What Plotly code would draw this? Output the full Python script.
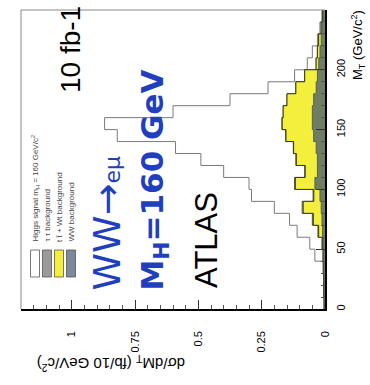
import numpy as np
import plotly.graph_objects as go

# ---------------- data ----------------
# lower edges of the 10 GeV/c^2 transverse-mass bins
mt_bin_low = [0, 10, 20, 30, 40, 50, 60, 70, 80, 90, 100, 110, 120,
              130, 140, 150, 160, 170, 180, 190, 200, 210, 220, 230, 240]
mt_upper_edge = 250

# d(sigma)/dM_T in fb / 10 GeV/c^2, per bin (stack components)
ww_bkg = [0.002, 0.003, 0.004, 0.005, 0.006, 0.008, 0.010, 0.012, 0.015, 0.020,
          0.040, 0.030, 0.030, 0.035, 0.045, 0.050, 0.050, 0.045, 0.035, 0.030,
          0.025, 0.020, 0.015, 0.012, 0.008]
ttbar_wt_bkg = [0.001, 0.001, 0.001, 0.001, 0.001, 0.002, 0.015, 0.034, 0.071, 0.024,
                0.077, 0.048, 0.083, 0.089, 0.109, 0.119, 0.115, 0.105, 0.080, 0.050,
                0.010, 0.010, 0.010, 0.003, 0.002]
tautau_bkg = [0.0, 0.0, 0.0, 0.0, 0.001, 0.002, 0.003, 0.004, 0.004, 0.003,
              0.003, 0.002, 0.002, 0.001, 0.001, 0.001, 0.0, 0.0, 0.0, 0.0,
              0.0, 0.0, 0.0, 0.0, 0.0]
higgs_signal = [0.001, 0.001, 0.001, 0.002, 0.032, 0.048, 0.082, 0.090, 0.110, 0.243,
                0.180, 0.320, 0.375, 0.465, 0.665, 0.700, 0.435, 0.225, 0.110, 0.040,
                0.035, 0.020, 0.005, 0.005, 0.002]

y_ticks = [0, 0.25, 0.5, 0.75, 1]
y_tick_text = ["0", "0.25", "0.5", "0.75", "1"]
mt_ticks = [0, 50, 100, 150, 200, 250]

legend_labels = ["Higgs signal m<sub>H</sub> = 160 GeV/c<sup>2</sup>",
                 "τ τ background",
                 "t t̄ + Wt background",
                 "WW background"]

# ---------------- build stacked step histograms ----------------
edges = mt_bin_low + [mt_upper_edge]
stack_ww = np.array(ww_bkg)
stack_tt = stack_ww + np.array(ttbar_wt_bkg)
stack_tau = stack_tt + np.array(tautau_bkg)
stack_sig = stack_tau + np.array(higgs_signal)


def steps(v):
    v = list(v)
    return v + [v[-1]]


fig = go.Figure()
fig.add_trace(go.Scatter(x=steps(stack_sig), y=edges, mode="lines",
                         line=dict(shape="vh", color="#7a7a7a", width=1),
                         fill="tozerox", fillcolor="white", hoverinfo="skip"))
fig.add_trace(go.Scatter(x=steps(stack_tau), y=edges, mode="lines",
                         line=dict(shape="vh", color="#222222", width=0.8),
                         fill="tozerox", fillcolor="white",
                         fillpattern=dict(shape=".", fgcolor="#333333", bgcolor="white",
                                          size=3, solidity=0.4),
                         hoverinfo="skip"))
fig.add_trace(go.Scatter(x=steps(stack_tt), y=edges, mode="lines",
                         line=dict(shape="vh", color="#2a2a10", width=0.9),
                         fill="tozerox", fillcolor="#f3ef3c", hoverinfo="skip"))
fig.add_trace(go.Scatter(x=steps(stack_ww), y=edges, mode="lines",
                         line=dict(shape="vh", color="#4a5640", width=0.8),
                         fill="tozerox", fillcolor="#6f7d62", hoverinfo="skip"))

# plot-area geometry in pixels (for placing the rotated labels)
L, R, T, B = 21, 325, 10, 309
W_PX, H_PX = 370, 385


def px(xp):
    return (xp - L) / (R - L)


def py(yp):
    return (B - yp) / (B - T)


fig.update_layout(
    width=W_PX, height=H_PX,
    margin=dict(l=L, r=W_PX - R, t=T, b=H_PX - B),
    showlegend=False,
    plot_bgcolor="white", paper_bgcolor="white",
    font=dict(family="Liberation Sans, Arial, sans-serif", color="black"),
)

fig.update_xaxes(
    range=[1.2, 0], tickmode="array", tickvals=y_ticks, ticktext=y_tick_text,
    tickangle=-90, ticks="inside", ticklen=9, tickcolor="#333", tickwidth=1,
    showline=True, linecolor="black", linewidth=1.5, showgrid=False, zeroline=False,
    minor=dict(tickmode="linear", tick0=0, dtick=0.05, ticks="inside", ticklen=4,
               tickcolor="#555"),
    tickfont=dict(size=11), ticklabelstandoff=16,
)
fig.update_yaxes(
    range=[0, 250], side="right", tickmode="array", tickvals=mt_ticks,
    tickangle=-90, ticks="inside", ticklen=9, tickcolor="#333", tickwidth=1,
    showline=True, linecolor="black", linewidth=1.5, showgrid=False, zeroline=False,
    minor=dict(tickmode="linear", tick0=0, dtick=10, ticks="inside", ticklen=4,
               tickcolor="#555"),
    tickfont=dict(size=11), ticklabelstandoff=5,
)

# frame lines on the two other sides
fig.add_shape(type="line", xref="paper", yref="paper", x0=0, x1=1, y0=1, y1=1,
              line=dict(color="#888", width=1))
fig.add_shape(type="line", xref="paper", yref="paper", x0=0, x1=0, y0=0, y1=1,
              line=dict(color="#888", width=1))

ann = []
# axis titles
ann.append(dict(text="M<sub>T</sub> (GeV/c<sup>2</sup>)", textangle=-90,
                x=px(358), y=py(8), xanchor="center", yanchor="top",
                font=dict(size=13)))
ann.append(dict(text="dσ/dM<sub>T</sub> (fb/10 GeV/c<sup>2</sup>)", textangle=180,
                x=px(111), y=py(364), xanchor="center", yanchor="middle",
                font=dict(size=15)))
# big labels
ann.append(dict(text="10 fb-1", textangle=-90, x=px(70), y=py(50),
                xanchor="center", yanchor="middle",
                font=dict(size=28, family="Liberation Sans, Arial")))
ann.append(dict(text="WW→<span style='font-size:22px'>eμ</span>", textangle=-90,
                x=px(106), y=py(293), xanchor="center", yanchor="bottom",
                font=dict(size=38, color="#1f3fbf", family="DejaVu Sans, Arial"),
                ))
ann.append(dict(text="<b>M<sub>H</sub>=160 GeV</b>", textangle=-90,
                x=px(154), y=py(293), xanchor="center", yanchor="bottom",
                font=dict(size=31, color="#1f3fbf", family="DejaVu Sans, Arial")))
ann.append(dict(text="ATLAS", textangle=-90, x=px(206), y=py(290),
                xanchor="center", yanchor="bottom",
                font=dict(size=31, family="Liberation Sans, Arial")))

# legend (drawn rotated like the rest of the figure)
leg_x = [35, 47, 59, 71]
leg_fill = ["white", "#9a9a9a", "#f3ef3c", "#7a8a9a"]
for i, lab in enumerate(legend_labels):
    ann.append(dict(text=lab, textangle=-90, x=px(leg_x[i]), y=py(244),
                    xanchor="center", yanchor="bottom",
                    font=dict(size=8, color="#444")))
    fig.add_shape(type="rect", xref="paper", yref="paper",
                  x0=px(leg_x[i] - 4.5), x1=px(leg_x[i] + 4.5),
                  y0=py(277), y1=py(250),
                  fillcolor=leg_fill[i], line=dict(color="#555", width=0.8))

for a in ann:
    a.update(xref="paper", yref="paper", showarrow=False)
fig.update_layout(annotations=ann)

fig.write_html("out.html")
